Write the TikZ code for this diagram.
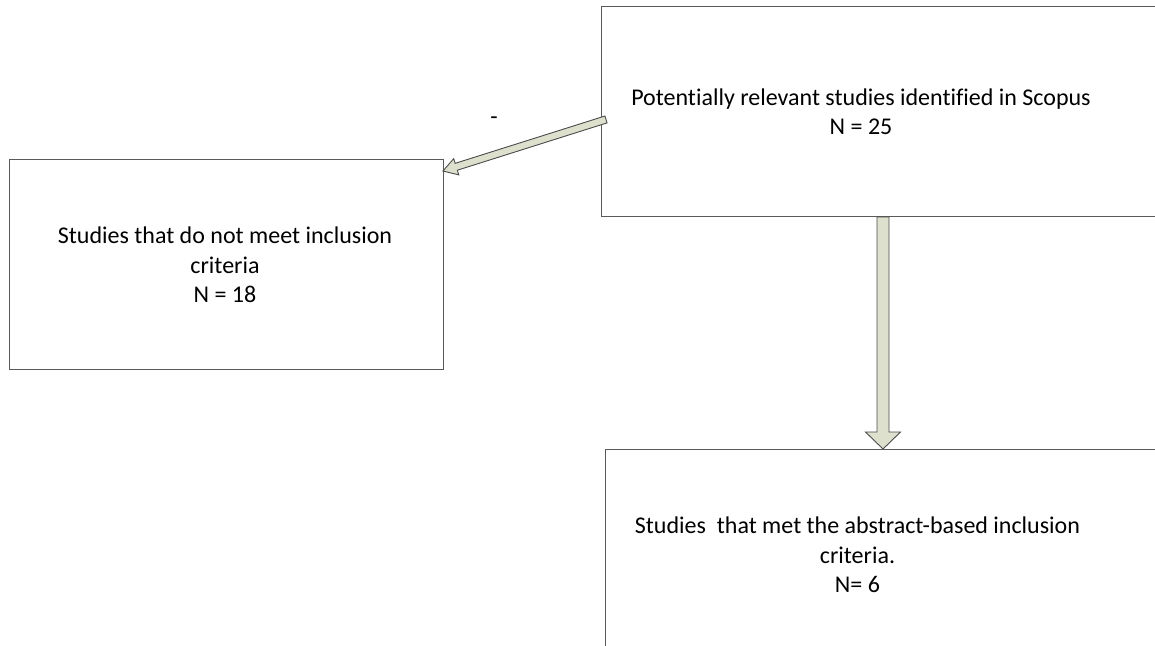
\documentclass[tikz,border=0pt]{standalone}
\usepackage{fontspec}
\setmainfont{Carlito}[Ligatures=NoCommon]
\usetikzlibrary{calc}

\definecolor{boxline}{RGB}{90,90,90}
\definecolor{arrowfill}{RGB}{221,224,204}
\definecolor{arrowline}{RGB}{75,75,75}

% Block arrow: #1 tail, #2 tip, #3 half shaft width, #4 half head width, #5 head length
\newcommand\blockarrow[5]{%
  \coordinate (ba-h) at ($(#2)!#5!(#1)$);
  \filldraw[flowarrow]
    ($(#1)!#3!90:(#2)$) -- ($(ba-h)!#3!90:(#2)$) -- ($(ba-h)!#4!90:(#2)$) --
    (#2) --
    ($(ba-h)!#4!-90:(#2)$) -- ($(ba-h)!#3!-90:(#2)$) -- ($(#1)!#3!-90:(#2)$) -- cycle;
}

\begin{document}
\begin{tikzpicture}[x=1pt,y=-1pt,
  box/.style={draw=boxline, line width=0.9pt, fill=white, inner sep=0pt},
  label text/.style={font=\fontsize{24}{29.3}\selectfont, align=center, inner sep=0pt},
  flowarrow/.style={fill=arrowfill, draw=arrowline, line width=0.9pt, line join=miter}]

  \useasboundingbox (0,0) rectangle (1155,645);
  \fill[white] (0,0) rectangle (1155,645);
  \clip (0,0) rectangle (1155,645);

  % boxes (the two right-hand boxes run past the page edge)
  \node[box, minimum width=640pt, minimum height=210pt, anchor=north west] (topbox) at (601,6) {};
  \node[box, minimum width=434pt, minimum height=210pt, anchor=north west] (leftbox) at (9,159) {};
  \node[box, minimum width=640pt, minimum height=260pt, anchor=north west] (botbox) at (605,449) {};

  % box texts
  \node[label text] (toptext) at (861,112) {Potentially relevant studies identified in Scopus\\N = 25};
  \node[label text] (lefttext) at (225,265) {Studies that do not meet inclusion\\criteria\\N = 18};
  \node[label text] (bottext) at (857.5,555) {Studies\ \ that met the abstract-based inclusion\\criteria.\\N= 6};

  \node[font=\fontsize{24}{29.3}\selectfont, inner sep=0pt] (dash) at (494,121) {-};

  % connectors
  \coordinate (dtail) at ($(topbox.west)+(5,8)$);
  \coordinate (dtip) at ($(leftbox.north east)+(-1,12)$);
  \blockarrow{dtail}{dtip}{3.6pt}{8.5pt}{14pt}

  \coordinate (vtail) at ([xshift=282pt]topbox.south west);
  \coordinate (vtip) at (vtail |- botbox.north);
  \blockarrow{vtail}{vtip}{6pt}{17.5pt}{17pt}
\end{tikzpicture}
\end{document}
